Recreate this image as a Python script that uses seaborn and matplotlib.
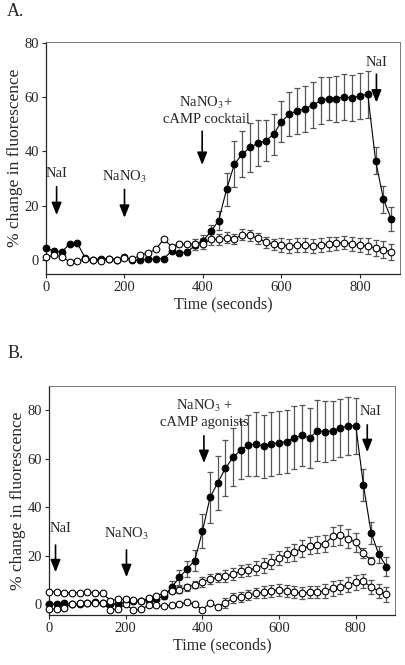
import numpy as np
import pandas as pd
import matplotlib
matplotlib.use("Agg")
import matplotlib.pyplot as plt
import seaborn as sns

# time axis shared by both panels (seconds)
time = list(range(0, 900, 20))

# Panel A
a_filled = [4.3, 3.2, 3.0, 5.8, 6.1, 0.6, 0.0, 0.5, 0.5, 0.0, 1.0, 0.0, 0.0, 0.3, 0.3,
            0.5, 3.2, 2.5, 2.8, 5.5, 7.0, 10.5, 14.5, 26.0, 35.3, 39.0, 41.5, 43.0, 44.0,
            46.3, 51.0, 53.8, 55.0, 55.8, 57.0, 58.8, 59.5, 59.5, 60.2, 59.6, 60.6, 61.0,
            36.5, 22.3, 15.0]
a_filled_err = [0] * 19 + [1.0, 2.0, 2.5, 3.5, 6.0, 8.5, 8.5, 9.0, 8.5, 7.5, 7.5, 7.5,
                           8.0, 8.5, 8.5, 8.5, 8.5, 8.0, 8.5, 8.5, 8.5, 8.5, 8.5, 5.0,
                           5.0, 4.5]
a_open = [0.9, 1.8, 1.2, -0.6, -0.4, 0.2, 0.0, -0.4, 0.4, 0.0, 0.6, 0.2, 1.8, 2.5, 3.9,
          7.7, 4.9, 5.8, 5.8, 5.8, 5.9, 7.6, 7.6, 8.1, 7.7, 9.3, 9.0, 8.0, 6.5, 5.8, 5.5,
          5.2, 5.5, 5.5, 5.2, 5.5, 5.9, 6.1, 6.4, 5.8, 5.5, 5.0, 4.5, 3.8, 2.8]
a_open_err = [0] * 19 + [2.0, 2.0, 2.0, 2.0, 2.0, 2.0, 2.0, 2.0, 2.0, 2.0, 2.0, 2.5,
                         2.5, 2.5, 2.5, 2.5, 2.5, 2.5, 2.5, 2.5, 2.5, 2.5, 3.0, 3.0,
                         3.0, 3.0]

# Panel B
b_filled = [0.0, 0.2, 0.5, 0.0, 0.2, 0.3, 0.8, 0.5, 0.0, 0.2, 0.8, 1.2, 1.5, 1.8, 2.2,
            3.5, 7.0, 11.0, 14.5, 18.0, 30.0, 44.0, 50.0, 56.0, 60.5, 63.5, 65.5, 66.0,
            65.0, 66.0, 66.5, 67.0, 68.5, 69.5, 68.5, 71.5, 71.0, 71.5, 72.5, 73.5, 73.5,
            49.0, 29.5, 20.5, 15.5]
b_filled_err = [0] * 15 + [1.5, 2.5, 3.0, 3.5, 4.5, 7.0, 10.5, 11.0, 11.5, 12.0, 12.0,
                           12.5, 13.0, 13.0, 13.0, 13.0, 13.0, 13.0, 12.5, 12.5, 12.5,
                           12.5, 12.0, 12.0, 12.0, 11.5, 6.5, 4.5, 3.5, 4.0]
b_open_up = [5.2, 5.0, 4.7, 4.7, 4.7, 5.0, 4.8, 4.5, 1.5, 2.0, 2.0, 1.8, 1.5, 2.5, 3.5,
             4.5, 5.5, 6.0, 7.0, 8.0, 9.0, 10.5, 11.0, 11.5, 12.5, 13.5, 14.0, 15.0,
             16.0, 17.5, 19.0, 20.5, 21.5, 23.0, 24.0, 24.5, 25.0, 28.0, 28.5, 27.0,
             25.5, 21.0, 18.0, np.nan, np.nan]
b_open_up_err = [0] * 15 + [1.0, 1.0, 1.5, 1.5, 1.5, 2.0, 2.0, 2.0, 2.5, 2.5, 2.5, 2.5,
                            3.0, 3.0, 3.0, 3.0, 3.0, 3.5, 3.5, 3.5, 3.5, 3.5, 4.0, 4.0,
                            4.0, 4.0, 2.0, 1.5, 0, 0]
b_open_low = [-2.0, -2.0, -1.5, 0.0, 0.3, 0.3, 0.5, 0.3, -2.2, -2.0, 0.0, -2.5, -2.0,
              -0.5, -0.5, -0.8, -0.5, 0.0, 0.8, 0.0, -2.3, 0.5, -1.0, 0.5, 2.5, 3.0, 3.8,
              4.5, 5.0, 5.3, 6.0, 5.5, 5.0, 4.5, 5.0, 5.0, 5.5, 6.5, 7.0, 8.0, 9.0, 9.5,
              7.0, 5.5, 4.0]
b_open_low_err = [0] * 23 + [2.0, 2.0, 2.0, 2.0, 2.0, 2.5, 2.5, 2.5, 2.5, 2.5, 2.5,
                             2.5, 2.5, 3.0, 3.0, 3.0, 3.0, 3.0, 3.0, 3.0, 3.0, 3.0]

sns.set_style("ticks")
plt.rcParams['font.family'] = ['Liberation Serif', 'DejaVu Serif']
plt.rcParams['mathtext.fontset'] = 'stix'


def draw_series(ax, y, err, filled):
    df = pd.DataFrame({'t': time, 'y': y, 'e': err}).dropna()
    bars = df[df['e'] > 0]
    ax.errorbar(bars['t'], bars['y'], yerr=bars['e'], fmt='none', ecolor='#555555',
                elinewidth=0.9, capsize=2.2, capthick=0.9, zorder=2, clip_on=False)
    sns.lineplot(data=df, x='t', y='y', ax=ax, color='black', linewidth=0.8,
                 marker='o', markersize=4.8,
                 markerfacecolor='black' if filled else 'white',
                 markeredgecolor='black', markeredgewidth=0.8,
                 zorder=3 if filled else 4, clip_on=False)


def style_axes(ax, ylim):
    ax.set_xlim(0, 902)
    ax.set_ylim(*ylim)
    ax.set_xticks([0, 200, 400, 600, 800])
    ax.set_yticks([0, 20, 40, 60, 80])
    ax.tick_params(labelsize=10.5, direction='out', length=3, width=0.8, pad=2)
    for side in ['top', 'right']:
        ax.spines[side].set_color('#777777')
        ax.spines[side].set_linewidth(0.7)
    for side in ['left', 'bottom']:
        ax.spines[side].set_linewidth(0.9)
    ax.set_xlabel('Time (seconds)', fontsize=11.5, labelpad=2)
    ax.set_ylabel('% change in fluorescence', fontsize=12.5, labelpad=1)


def arrow(ax, x, y0, y1, label, ty, tx=None):
    ax.annotate('', xy=(x, y1), xytext=(x, y0),
                arrowprops=dict(arrowstyle='-|>,head_width=0.3,head_length=0.75',
                                color='black', lw=1.2, mutation_scale=10), zorder=6)
    ax.text(x if tx is None else tx, ty, label, ha='center', va='bottom',
            fontsize=10.5, zorder=6)


fig = plt.figure(figsize=(4.05, 6.65), dpi=100)
axA = fig.add_axes([0.1136, 0.588, 0.874, 0.349])
axB = fig.add_axes([0.121, 0.075, 0.854, 0.345])

draw_series(axA, a_open, a_open_err, False)
draw_series(axA, a_filled, a_filled_err, True)
style_axes(axA, (-5.2, 80.4))
arrow(axA, 27, 28, 15.5, 'NaI', 29.5)
arrow(axA, 200, 27, 14.5, 'NaNO$_3$', 27.5)
arrow(axA, 398, 48.5, 34, 'NaNO$_3$+\ncAMP cocktail', 49.5, tx=408)
arrow(axA, 842, 69.5, 57, 'NaI', 70.5)

draw_series(axB, b_open_low, b_open_low_err, False)
draw_series(axB, b_open_up, b_open_up_err, False)
draw_series(axB, b_filled, b_filled_err, True)
style_axes(axB, (-4.5, 90))
arrow(axB, 17, 25.5, 12, 'NaI', 28.5, tx=30)
arrow(axB, 202, 23.5, 10, 'NaNO$_3$', 25.5)
arrow(axB, 404, 70.5, 57, 'NaNO$_3$ +\ncAMP agonists', 72, tx=405)
arrow(axB, 830, 75, 61.5, 'NaI', 76.5, tx=838)

fig.text(0.018, 0.982, 'A.', fontsize=13, va='center')
fig.text(0.018, 0.469, 'B.', fontsize=13, va='center')

fig.savefig('out.png', dpi=100)
